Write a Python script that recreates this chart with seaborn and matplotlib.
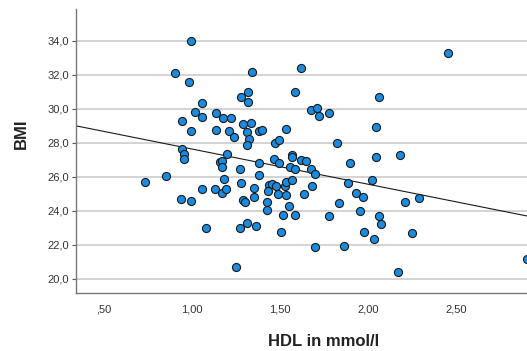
import matplotlib
matplotlib.use("Agg")
import matplotlib.pyplot as plt
from matplotlib.ticker import FuncFormatter, FixedLocator
import numpy as np
import pandas as pd
import seaborn as sns

# HDL (mmol/l) values
hdl = [0.992, 0.902, 1.341, 0.984, 1.617, 1.319, 1.279, 1.319, 1.585, 1.055,
       1.015, 1.055, 0.943, 1.135, 1.177, 1.218, 0.992, 1.135, 1.208, 1.238,
       1.289, 1.332, 1.310, 1.320, 1.311, 1.381, 1.394, 1.535, 1.472, 1.495,
       0.943, 2.451, 2.063, 1.677, 1.709, 1.719, 1.779, 2.046, 1.820,
       0.953, 0.953, 1.198, 1.156, 1.169, 1.169, 1.269, 1.381, 1.463, 1.495,
       1.565, 1.566, 1.617, 1.647, 1.553, 1.586, 0.730, 0.851, 1.381, 1.178,
       1.279, 1.055, 1.127, 1.168, 1.190, 1.351, 1.436, 1.452, 1.476, 1.525,
       1.535, 1.566, 1.432, 1.485, 1.535, 0.934, 0.995, 1.289, 1.301, 1.351,
       1.423, 1.423, 1.549, 1.514, 1.586, 1.076, 1.269, 1.310, 1.361, 1.503,
       1.249, 1.676, 1.698, 1.678, 1.636, 1.893, 2.045, 2.177, 1.882, 2.023,
       1.932, 1.972, 1.832, 1.952, 1.779, 2.063, 2.074, 2.207, 2.289, 1.974,
       2.034, 2.249, 1.699, 1.860, 2.167, 2.900]

# BMI values
bmi = [34.00, 32.08, 32.14, 31.55, 32.41, 31.00, 30.71, 30.39, 30.97, 30.31,
       29.78, 29.50, 29.29, 29.74, 29.44, 29.47, 28.71, 28.75, 28.69, 28.32,
       29.10, 29.16, 28.64, 28.20, 27.86, 28.69, 28.73, 28.82, 28.00, 28.17,
       27.63, 33.26, 30.70, 29.91, 30.03, 29.58, 29.75, 28.91, 28.00,
       27.34, 27.06, 27.35, 26.86, 26.91, 26.55, 26.47, 26.82, 27.06, 26.79,
       27.28, 27.16, 26.98, 26.92, 26.59, 26.44, 25.69, 26.07, 26.10, 25.88,
       25.61, 25.26, 25.29, 25.06, 25.26, 25.34, 25.49, 25.57, 25.47, 25.44,
       25.71, 25.81, 25.14, 24.96, 24.92, 24.69, 24.57, 24.63, 24.53, 24.79,
       24.49, 24.07, 24.26, 23.76, 23.76, 23.00, 22.98, 23.25, 23.10, 22.76,
       20.67, 26.44, 26.16, 25.45, 24.96, 26.82, 27.14, 27.28, 25.61, 25.81,
       25.06, 24.78, 24.48, 24.01, 23.68, 23.69, 23.24, 24.51, 24.75, 22.73,
       22.35, 22.69, 21.84, 21.92, 20.39, 21.16]

x_ticks = [0.5, 1.0, 1.5, 2.0, 2.5]
y_ticks = [20.0, 22.0, 24.0, 26.0, 28.0, 30.0, 32.0, 34.0]
x_label = "HDL in mmol/l"
y_label = "BMI"

df = pd.DataFrame({"HDL": hdl, "BMI": bmi})

sns.set_style("white")
plt.rcParams["font.family"] = ["Liberation Sans", "DejaVu Sans"]

fig = plt.figure(figsize=(5.27, 3.51), dpi=100)
ax = fig.add_axes([76 / 527, (351 - 293.3) / 351, 451 / 527, (293.3 - 9.3) / 351])

xlim = (0.341, 2.90)
ylim = (19.14, 35.85)
ax.set_xlim(*xlim)
ax.set_ylim(*ylim)

for yt in y_ticks:
    ax.axhline(yt, color="#c8c8c8", lw=1.1, zorder=0)

sns.regplot(data=df, x="HDL", y="BMI", scatter=False, ci=None, truncate=False,
            ax=ax, line_kws={"color": "#1a1a1a", "lw": 0.8, "zorder": 2})

sns.scatterplot(data=df, x="HDL", y="BMI", ax=ax, s=34, color="#1a8be0",
                edgecolor="#1a1a1a", linewidth=0.8, zorder=3, clip_on=True)

ax.set_xlim(*xlim)
ax.set_ylim(*ylim)

ax.xaxis.set_major_locator(FixedLocator(x_ticks))
ax.yaxis.set_major_locator(FixedLocator(y_ticks))
ax.xaxis.set_major_formatter(FuncFormatter(
    lambda v, p: f"{v:.2f}".replace(".", ",").lstrip("0")))
ax.yaxis.set_major_formatter(FuncFormatter(
    lambda v, p: f"{v:.1f}".replace(".", ",")))

ax.tick_params(axis="y", which="major", length=3, width=0.8, color="#555555",
               labelsize=8, labelcolor="#333333", pad=2, left=True)
ax.tick_params(axis="x", which="major", length=0, labelsize=8,
               labelcolor="#333333", pad=8)

for side in ["top", "right"]:
    ax.spines[side].set_visible(False)
for side in ["left", "bottom"]:
    ax.spines[side].set_color("#777777")
    ax.spines[side].set_linewidth(1.0)

ax.set_xlabel(x_label, fontsize=12, fontweight="bold", color="#222222")
ax.set_ylabel(y_label, fontsize=12, fontweight="bold", color="#222222")
ax.xaxis.set_label_coords(0.548, -0.168)
ax.xaxis.label.set_va("center")
ax.yaxis.set_label_coords(-0.122, 0.562)
ax.yaxis.label.set_va("center")

fig.savefig("out.png", dpi=100)
